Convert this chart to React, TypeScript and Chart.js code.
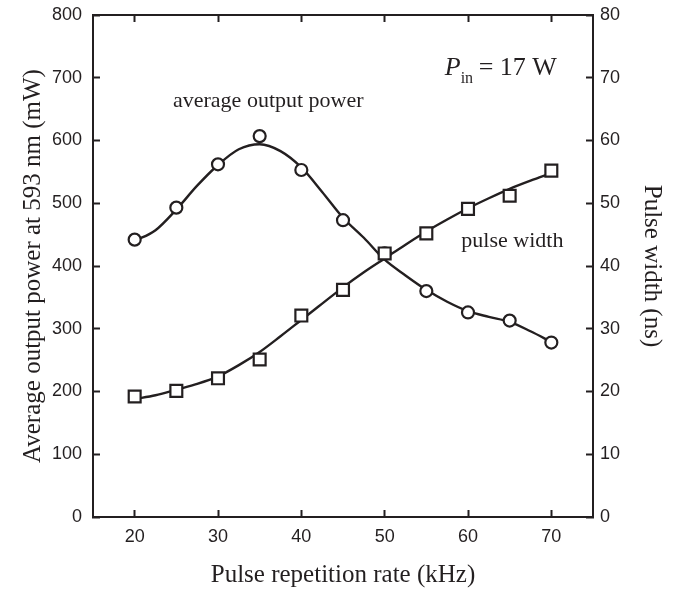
import React, { useEffect, useRef } from "react";
import { Chart, registerables } from "chart.js";

Chart.register(...registerables);

// Measured data points
const rateKHz = [20, 25, 30, 35, 40, 45, 50, 55, 60, 65, 70];
const powerMW = [442, 493, 562, 607, 553, 473, 420, 360, 326, 313, 278];
const widthNs = [19.2, 20.1, 22.1, 25.1, 32.1, 36.2, 42.0, 45.2, 49.1, 51.2, 55.2];

// Fitted curves
const fitRateKHz = [20, 22.5, 25, 27.5, 30, 32.5, 35, 37.5, 40, 42.5, 45, 47.5, 50, 52.5, 55, 57.5, 60, 62.5, 65, 67.5, 70];
const powerFitMW = [440, 457, 490, 528, 561, 586, 594, 583, 557, 518, 477, 445, 410, 385, 362, 343, 328, 319, 311, 296, 279];
const widthFitNs = [18.8, 19.4, 20.3, 21.2, 22.4, 24.2, 26.3, 28.8, 31.4, 34.0, 36.6, 39.0, 41.2, 43.4, 45.5, 47.4, 49.2, 50.8, 52.3, 53.6, 54.8];

// Tick labels
const xTicks = [20, 30, 40, 50, 60, 70];
const powerTicks = [0, 100, 200, 300, 400, 500, 600, 700, 800];
const widthTicks = [0, 10, 20, 30, 40, 50, 60, 70, 80];

const INK = "#231f20";
const SERIF = '"Liberation Serif", "Times New Roman", serif';
const SANS = '"Liberation Sans", Arial, sans-serif';

const toXY = (xs: number[], ys: number[]) => xs.map((x, i) => ({ x, y: ys[i] }));

const annotations = {
  id: "annotations",
  afterDatasetsDraw(chart: any) {
    const { ctx, scales } = chart;
    ctx.save();
    ctx.fillStyle = INK;
    ctx.textBaseline = "alphabetic";
    ctx.textAlign = "left";
    ctx.font = `22px ${SERIF}`;
    ctx.fillText("average output power", scales.x.getPixelForValue(24.6), scales.y.getPixelForValue(653));
    ctx.fillText("pulse width", scales.x.getPixelForValue(59.2), scales.y2.getPixelForValue(43.1));

    const x0 = scales.x.getPixelForValue(57.2);
    const y = scales.y.getPixelForValue(704);
    ctx.font = `italic 26px ${SERIF}`;
    ctx.fillText("P", x0, y);
    ctx.font = `16px ${SERIF}`;
    ctx.fillText("in", x0 + 16, y + 8);
    ctx.font = `26px ${SERIF}`;
    ctx.fillText("= 17 W", x0 + 34, y);
    ctx.restore();
  },
};

const gridOpts = {
  drawOnChartArea: false,
  drawTicks: true,
  tickLength: -7,
  tickWidth: 2,
  tickColor: INK,
};
const borderOpts = { display: true, color: INK, width: 2 };
const tickFont = { family: SANS, size: 18 };
const titleFont = { family: SERIF, size: 25 };

const fixH = (h: number) => (s: any) => {
  s.height = h;
  s.paddingLeft = 0;
  s.paddingRight = 0;
};
const fixW = (w: number) => (s: any) => {
  s.width = w;
  s.paddingTop = 0;
  s.paddingBottom = 0;
};

export default function App() {
  const ref = useRef<HTMLCanvasElement>(null);

  useEffect(() => {
    document.body.style.margin = "0";
    const canvas = ref.current;
    if (!canvas) return;
    const chart = new Chart(canvas, {
      type: "line",
      data: {
        datasets: [
          {
            label: "Pulse width points",
            data: toXY(rateKHz, widthNs),
            yAxisID: "y2",
            showLine: false,
            pointStyle: "rect",
            pointRadius: 8.4,
            pointBackgroundColor: "#ffffff",
            pointBorderColor: INK,
            pointBorderWidth: 2.2,
          },
          {
            label: "Average output power points",
            data: toXY(rateKHz, powerMW),
            yAxisID: "y",
            showLine: false,
            pointStyle: "circle",
            pointRadius: 6,
            pointBackgroundColor: "#ffffff",
            pointBorderColor: INK,
            pointBorderWidth: 2.2,
          },
          {
            label: "Pulse width fit",
            data: toXY(fitRateKHz, widthFitNs),
            yAxisID: "y2",
            borderColor: INK,
            borderWidth: 2.4,
            pointRadius: 0,
            cubicInterpolationMode: "monotone",
            fill: false,
          },
          {
            label: "Average output power fit",
            data: toXY(fitRateKHz, powerFitMW),
            yAxisID: "y",
            borderColor: INK,
            borderWidth: 2.4,
            pointRadius: 0,
            cubicInterpolationMode: "monotone",
            fill: false,
          },
        ],
      },
      options: {
        responsive: false,
        animation: false,
        devicePixelRatio: 1,
        layout: { padding: 0 },
        plugins: { legend: { display: false }, tooltip: { enabled: false } },
        events: [],
        scales: {
          x: {
            type: "linear",
            position: "bottom",
            min: 15,
            max: 75,
            afterBuildTicks: (s: any) => {
              s.ticks = xTicks.map((v) => ({ value: v }));
            },
            afterFit: fixH(74),
            grid: gridOpts,
            border: borderOpts,
            ticks: { padding: 16, color: INK, font: tickFont, maxRotation: 0 },
            title: {
              display: true,
              text: "Pulse repetition rate (kHz)",
              color: INK,
              font: titleFont,
              padding: { top: 0, bottom: 1 },
            },
          },
          x2: {
            type: "linear",
            position: "top",
            min: 15,
            max: 75,
            afterBuildTicks: (s: any) => {
              s.ticks = xTicks.map((v) => ({ value: v }));
            },
            afterFit: fixH(15),
            grid: gridOpts,
            border: borderOpts,
            ticks: { display: false },
          },
          y: {
            type: "linear",
            position: "left",
            min: 0,
            max: 800,
            afterBuildTicks: (s: any) => {
              s.ticks = powerTicks.map((v) => ({ value: v }));
            },
            afterFit: fixW(93),
            grid: gridOpts,
            border: borderOpts,
            ticks: { padding: 18, color: INK, font: tickFont },
            title: {
              display: true,
              text: "Average output power at 593 nm (mW)",
              color: INK,
              font: titleFont,
              padding: { top: 18, bottom: 0 },
            },
          },
          y2: {
            type: "linear",
            position: "right",
            min: 0,
            max: 80,
            afterBuildTicks: (s: any) => {
              s.ticks = widthTicks.map((v) => ({ value: v }));
            },
            afterFit: fixW(84),
            grid: gridOpts,
            border: borderOpts,
            ticks: { padding: 14, color: INK, font: tickFont },
            title: {
              display: true,
              text: "Pulse width (ns)",
              color: INK,
              font: titleFont,
              padding: { top: 10, bottom: 0 },
            },
          },
        },
      },
      plugins: [annotations],
    } as any);
    return () => chart.destroy();
  }, []);

  return <canvas ref={ref} width={677} height={591} style={{ display: "block" }} />;
}
